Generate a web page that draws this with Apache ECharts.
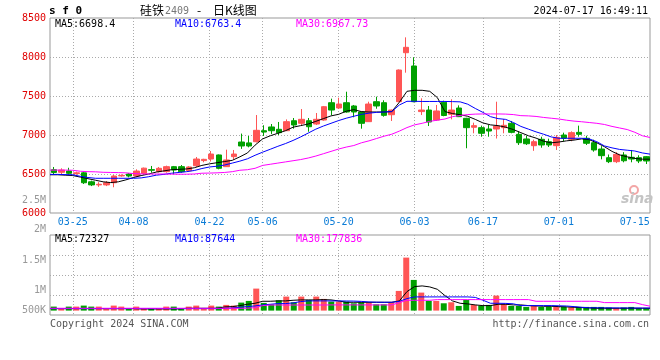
<!DOCTYPE html>
<html><head><meta charset="utf-8">
<script src="https://cdn.jsdelivr.net/npm/echarts@6/dist/echarts.min.js"></script>
<style>html,body{margin:0;padding:0;background:#fff}#c{width:660px;height:360px}</style>
</head><body><div id="c"></div>
<script>
const dates = ['03-20','03-21','03-22','03-25','03-26','03-27','03-28','03-29','04-01','04-02','04-03','04-08','04-09','04-10','04-11','04-12','04-15','04-16','04-17','04-18','04-19','04-22','04-23','04-24','04-25','04-26','04-29','04-30','05-06','05-07','05-08','05-09','05-10','05-13','05-14','05-15','05-16','05-17','05-20','05-21','05-22','05-23','05-24','05-27','05-28','05-29','05-30','05-31','06-03','06-04','06-05','06-06','06-07','06-11','06-12','06-13','06-14','06-17','06-18','06-19','06-20','06-21','06-24','06-25','06-26','06-27','06-28','07-01','07-02','07-03','07-04','07-05','07-08','07-09','07-10','07-11','07-12','07-15','07-16','07-17'];
const tickDates = ['03-25','04-08','04-22','05-06','05-20','06-03','06-17','07-01','07-15'];
const gridDates = ['03-25','04-08','04-22','05-06','05-20','06-03','06-17','07-01'];
const priceTicks = [6000, 8500, 500];
const volTickLabels = ['2.5M','2M','1.5M','1M','500K'];

const opens = [6555,6522,6538,6505,6515,6400,6360,6360,6388,6475, 6500,6474,6505,6556,6530,6530,6594,6594,6542,6606, 6672,6692,6744,6594,6722,6910,6899,6914,7055,7103, 7073,7055,7183,7150,7183,7141,7192,7414,7346,7414, 7372,7295,7171,7427,7414,7260,7427,8055,7885,7300, 7320,7192,7420,7266,7346,7214,7099,7094,7077,7077, 7094,7150,7009,6949,6863,6945,6914,6863,7000,6945, 7034,6958,6901,6820,6709,6658,6744,6714,6709,6722];
const closes = [6520,6551,6509,6515,6388,6360,6368,6388,6474,6482, 6474,6538,6575,6548,6573,6594,6551,6530,6590,6692, 6688,6756,6573,6680,6756,6859,6859,7060,7038,7055, 7030,7171,7128,7201,7106,7201,7363,7320,7397,7295, 7295,7150,7397,7372,7252,7320,7833,8124,7427,7320, 7167,7308,7250,7320,7235,7094,7120,7022,7051,7115, 7124,7034,6901,6888,6914,6872,6872,6970,6958,7030, 7009,6894,6808,6735,6658,6752,6670,6692,6667,6667];
const lows = [6500,6500,6496,6490,6372,6345,6335,6345,6330,6465, 6457,6460,6495,6517,6520,6517,6500,6517,6530,6590, 6650,6660,6560,6590,6685,6822,6842,6905,6987,7013, 7000,7055,7081,7115,7042,7128,7183,7256,7333,7286, 7227,7081,7171,7337,7235,7180,7420,7799,7420,7256, 7115,7180,7240,7201,7230,6830,7022,6978,6978,6955, 7022,7022,6872,6872,6797,6837,6846,6808,6920,6920, 6978,6872,6786,6688,6640,6640,6650,6650,6640,6628];
const highs = [6590,6573,6580,6530,6530,6415,6395,6410,6487,6495, 6513,6560,6582,6603,6590,6607,6603,6615,6600,6718, 6695,6795,6750,6812,6808,7018,6987,7256,7125,7141, 7167,7200,7218,7333,7218,7282,7372,7466,7478,7555, 7385,7300,7427,7491,7445,7325,7840,8252,7996,7470, 7372,7385,7440,7458,7380,7220,7158,7120,7128,7427, 7205,7180,7047,6991,6940,6978,6953,7000,7030,7047, 7120,6990,6940,6857,6750,6780,6780,6808,6740,6730];

const ma5 = [6490,6490,6485,6480,6460,6440,6420,6400,6390,6400, 6425,6455,6480,6500,6525,6540,6555,6560,6565,6580, 6610,6630,6645,6660,6675,6720,6770,6870,6950,6990, 7022,7055,7100,7120,7141,7175,7210,7245,7265,7305, 7325,7300,7295,7295,7295,7300,7420,7560,7573,7573, 7560,7480,7300,7275,7260,7240,7200,7155,7130,7120, 7100,7070,7030,6990,6960,6920,6900,6910,6925,6935, 6950,6940,6900,6850,6790,6745,6720,6700,6690,6690];
const ma10 = [6495,6495,6492,6490,6470,6455,6445,6445,6445,6445, 6445,6445,6450,6465,6485,6495,6510,6520,6530,6545, 6570,6590,6600,6615,6640,6665,6695,6740,6780,6817, 6855,6890,6930,6975,7025,7075,7115,7150,7185,7215, 7240,7265,7280,7290,7295,7300,7385,7432,7432,7430, 7430,7430,7430,7428,7425,7395,7340,7290,7235,7210, 7200,7160,7110,7075,7040,7010,6975,6958,6958,6958, 6958,6950,6914,6860,6835,6815,6805,6795,6770,6755];
const ma30 = [6550,6550,6550,6548,6535,6530,6528,6522,6520,6518, 6515,6505,6502,6500,6500,6500,6498,6497,6497,6500, 6510,6512,6515,6520,6530,6548,6555,6573,6610,6625, 6640,6655,6670,6685,6705,6730,6760,6790,6820,6845, 6865,6900,6925,6955,6985,7010,7050,7095,7130,7150, 7175,7190,7205,7235,7250,7262,7268,7270,7270,7270, 7268,7262,7248,7245,7238,7225,7215,7205,7190,7178, 7170,7160,7150,7135,7110,7090,7070,7035,6990,6968];

const volumes = [100000,58000,100000,100000,125000,100000,100000,58000,125000,100000, 58000,100000,58000,58000,58000,100000,100000,58000,100000,125000, 58000,125000,100000,142000,125000,200000,242000,550000,192000,158000, 258000,350000,208000,350000,267000,350000,292000,225000,225000,225000, 183000,208000,208000,158000,158000,208000,492000,1325000,767000,450000, 242000,242000,183000,208000,117000,267000,142000,125000,142000,375000, 167000,117000,117000,92000,117000,92000,100000,92000,100000,83000, 92000,92000,92000,92000,75000,58000,75000,92000,58000,58000];
const vma5 = [50000,50000,50000,50000,50000,50000,50000,50000,50000,50000, 50000,50000,42000,42000,42000,42000,42000,42000,58000,58000, 58000,58000,58000,92000,100000,125000,158000,183000,233000,233000, 242000,242000,258000,267000,267000,267000,275000,267000,242000,208000, 208000,208000,208000,208000,208000,208000,242000,475000,600000,617000, 592000,533000,375000,242000,183000,167000,142000,125000,125000,158000, 158000,142000,142000,125000,117000,108000,108000,100000,92000,83000, 75000,67000,58000,58000,58000,58000,58000,58000,58000,58000];
const vma10 = [50000,50000,50000,50000,50000,50000,50000,50000,50000,50000, 50000,50000,50000,50000,50000,50000,50000,50000,50000,50000, 50000,50000,50000,55000,65000,83000,100000,117000,142000,158000, 175000,175000,192000,225000,242000,242000,242000,242000,242000,240000, 238000,230000,215000,210000,208000,208000,230000,300000,342000,342000, 342000,342000,342000,342000,342000,342000,330000,260000,183000,183000, 180000,170000,125000,125000,125000,125000,125000,120000,115000,100000, 83000,70000,70000,68000,67000,66000,65000,65000,64000,64000];
const vma30 = [58000,58000,58000,58000,58000,58000,58000,58000,58000,58000, 58000,58000,58000,58000,58000,58000,58000,58000,58000,58000, 58000,58000,58000,58000,58000,58000,58000,75000,125000,140000, 140000,140000,140000,140000,140000,140000,140000,142000,142000,142000, 142000,142000,142000,142000,142000,142000,200000,258000,258000,258000, 258000,275000,275000,275000,275000,275000,275000,275000,275000,275000, 275000,275000,275000,275000,233000,233000,233000,233000,233000,233000, 233000,233000,233000,200000,200000,200000,200000,200000,150000,110000];

const maLabels = ['MA5:6698.4','MA10:6763.4','MA30:6967.73'];
const volMaLabels = ['MA5:72327','MA10:87644','MA30:177836'];

const UP = '#ff5555', DOWN = '#00a000';
const MONO = '"DejaVu Sans Mono", monospace';
const CJK = '"Noto Sans CJK SC", sans-serif';
const dotted = {color:'#aaa', type:[1,2], width:1};

const chart = echarts.init(document.getElementById('c'), null, {renderer:'canvas'});
const candleData = dates.map((d,i)=>[opens[i], closes[i], lows[i], highs[i]]);
const volData = volumes.map((v,i)=>({value:v, itemStyle:{color: closes[i] >= opens[i] ? UP : DOWN}}));
const volLabelPos = [10.3, 39.5, 70, 100, 120.7];

const hiddenCat = (g, gap) => ({type:'category', gridIndex:g, data:dates, boundaryGap:gap, position:'bottom',
  axisLine:{show:false}, axisTick:{show:false}, axisLabel:{show:false}, splitLine:{show:false}});

const lineS = (data, color, xi, yi) => ({type:'line', data, xAxisIndex:xi, yAxisIndex:yi, symbol:'none',
  lineStyle:{color, width:1}, z:5, silent:true});

function txt(text, x, y, color, font, align) {
  return {type:'text', x, y, silent:true, z:100,
    style:{text, fill:color, font, textAlign:align||'left', textVerticalAlign:'middle'}};
}

chart.setOption({
  animation:false,
  backgroundColor:'#fff',
  grid:[
    {left:50, right:10, top:18, height:195, show:true, borderColor:'#999', borderWidth:1},
    {left:50, right:10, top:235, height:80, show:true, borderColor:'#999', borderWidth:1},
    {left:50, right:10, top:190, height:130, show:false}
  ],
  xAxis:[
    hiddenCat(0, true),
    {type:'category', gridIndex:0, data:dates, boundaryGap:false, position:'bottom',
      axisLine:{show:false}, axisTick:{show:false},
      axisLabel:{show:true, interval:(i,v)=>tickDates.includes(v), color:'#0a7bd6', fontFamily:MONO, fontSize:10, margin:4},
      splitLine:{show:true, interval:(i,v)=>gridDates.includes(v), lineStyle:dotted}},
    hiddenCat(1, true),
    {type:'category', gridIndex:1, data:dates, boundaryGap:false, position:'bottom',
      axisLine:{show:false}, axisTick:{show:false}, axisLabel:{show:false},
      splitLine:{show:true, interval:(i,v)=>gridDates.includes(v), lineStyle:dotted}},
    {type:'value', gridIndex:2, show:false}
  ],
  yAxis:[
    {type:'value', gridIndex:0, min:priceTicks[0], max:priceTicks[1], interval:priceTicks[2],
      axisLine:{show:false}, axisTick:{show:false},
      axisLabel:{color:'#e00000', fontFamily:MONO, fontSize:10, margin:4, formatter:(v)=>String(v)},
      splitLine:{show:true, showMinLine:false, showMaxLine:false, lineStyle:dotted}},
    {type:'value', gridIndex:1, min:-110000, max:1890000, interval:500000,
      axisLine:{show:false}, axisTick:{show:false}, axisLabel:{show:false},
      splitLine:{show:true, showMinLine:false, showMaxLine:false, lineStyle:dotted}},
    {type:'value', gridIndex:2, min:0, max:130, inverse:true,
      axisLine:{show:false}, axisTick:{show:false}, splitLine:{show:false},
      axisLabel:{show:true, customValues:volLabelPos, color:'#999', fontFamily:MONO, fontSize:10, margin:4,
        formatter:(v)=>{let b=0,d=1e9;volLabelPos.forEach((p,k)=>{if(Math.abs(p-v)<d){d=Math.abs(p-v);b=k;}});return volTickLabels[b];}}}
  ],
  series:[
    {type:'candlestick', data:candleData, xAxisIndex:0, yAxisIndex:0, barWidth:6, z:2,
      itemStyle:{color:UP, color0:DOWN, borderColor:UP, borderColor0:DOWN, borderWidth:1}},
    lineS(ma5, '#000000', 1, 0),
    lineS(ma10, '#0000ff', 1, 0),
    lineS(ma30, '#ff00ff', 1, 0),
    {type:'bar', data:volData, xAxisIndex:2, yAxisIndex:1, barWidth:6, z:2},
    lineS(vma5, '#000000', 3, 1),
    lineS(vma10, '#0000ff', 3, 1),
    lineS(vma30, '#ff00ff', 3, 1)
  ],
  graphic:[
    txt('s f 0', 49, 11, '#000', 'bold 11px ' + MONO),
    txt('硅铁', 140, 10, '#000', '12px ' + CJK),
    txt('2409', 165, 11, '#777', '10px ' + MONO),
    txt('-', 197, 10, '#000', '12px ' + CJK),
    txt('日K线图', 213, 10, '#000', '12px ' + CJK),
    txt('2024-07-17 16:49:11', 648, 11, '#000', '10px ' + MONO, 'right'),
    txt(maLabels[0], 55, 24, '#000', '10px ' + MONO),
    txt(maLabels[1], 175, 24, '#0000ff', '10px ' + MONO),
    txt(maLabels[2], 296, 24, '#ff00ff', '10px ' + MONO),
    txt(volMaLabels[0], 55, 239, '#000', '10px ' + MONO),
    txt(volMaLabels[1], 175, 239, '#0000ff', '10px ' + MONO),
    txt(volMaLabels[2], 296, 239, '#ff00ff', '10px ' + MONO),
    txt('Copyright 2024 SINA.COM', 50, 324, '#555', '10px ' + MONO),
    txt('http://finance.sina.com.cn', 649, 324, '#555', '10px ' + MONO, 'right'),
    {type:'circle', shape:{cx:634, cy:190, r:4}, style:{fill:'none', stroke:'#f3a6a6', lineWidth:2}, silent:true, z:1},
    txt('sina', 621, 199, '#c4c4c4', 'italic bold 14px "DejaVu Sans", sans-serif')
  ]
});
</script></body></html>
